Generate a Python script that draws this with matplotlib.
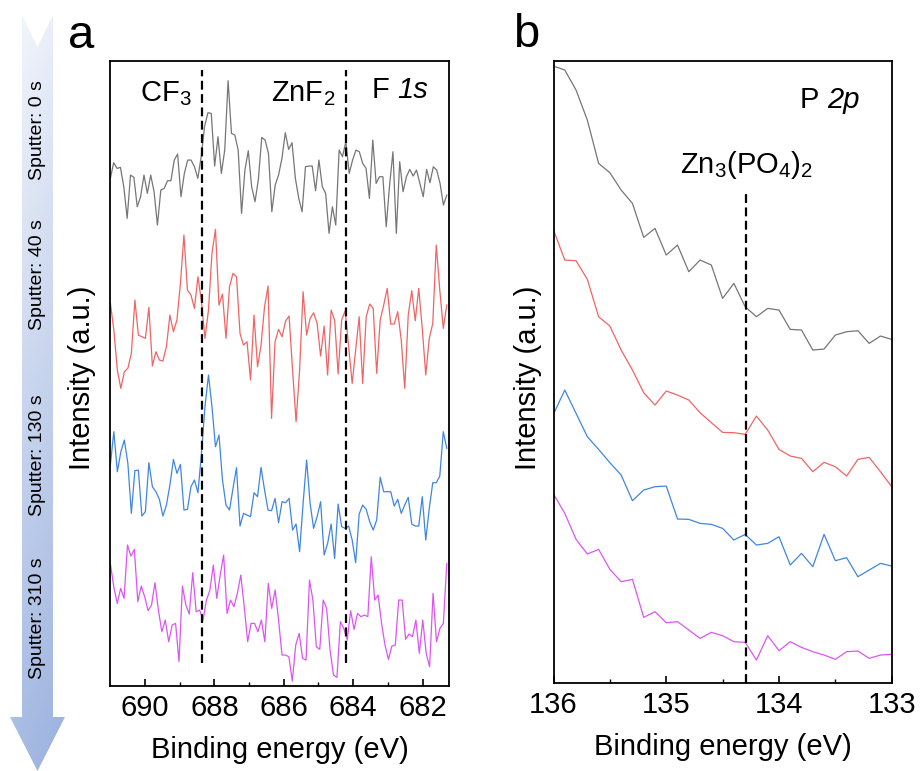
import numpy as np
import matplotlib
matplotlib.use("Agg")
import matplotlib.pyplot as plt
from matplotlib.patches import Polygon

plt.rcParams['font.family'] = ['Liberation Sans', 'DejaVu Sans']
plt.rcParams['mathtext.fontset'] = 'custom'
plt.rcParams['mathtext.rm'] = 'Liberation Sans'
plt.rcParams['mathtext.it'] = 'Liberation Sans:italic'

# ---- panel a: F 1s, intensities (a.u.), 691 -> 681.3 eV
f1s_0s = [245, 292, 275, 278, 220, 125, 255, 248, 160, 190, 255, 200, 255, 205, 105, 210, 215, 238, 238, 300,
          318, 190, 260, 300, 300, 280, 245, 310, 400, 442, 440, 282, 370, 260, 330, 538, 380, 375, 330, 140,
          270, 328, 220, 175, 242, 368, 360, 320, 145, 225, 255, 305, 382, 332, 352, 245, 185, 145, 280, 282,
          282, 208, 300, 220, 200, 80, 160, 105, 330, 310, 355, 260, 300, 330, 325, 290, 275, 185, 360, 230,
          250, 250, 100, 225, 325, 80, 295, 205, 250, 272, 252, 270, 230, 190, 272, 232, 280, 270, 230, 165, 195]
f1s_40s = [402, 320, 200, 145, 195, 205, 250, 410, 305, 300, 295, 388, 212, 255, 230, 227, 270, 365, 315, 350,
           460, 605, 440, 425, 385, 480, 405, 295, 380, 550, 622, 395, 428, 295, 450, 490, 480, 310, 275, 285,
           170, 365, 210, 275, 390, 452, 55, 285, 322, 300, 347, 362, 200, 45, 200, 435, 305, 355, 372, 340,
           242, 332, 185, 380, 350, 188, 350, 378, 270, 160, 260, 360, 160, 360, 398, 385, 190, 350, 395, 445,
           338, 338, 375, 290, 145, 365, 438, 348, 445, 325, 185, 295, 340, 575, 440, 325, 395]
f1s_130s = [315, 415, 295, 355, 390, 320, 170, 298, 300, 162, 175, 322, 250, 235, 212, 162, 195, 255, 332, 290,
            317, 180, 182, 250, 270, 232, 350, 490, 585, 490, 370, 405, 270, 195, 180, 245, 307, 132, 170, 165,
            160, 232, 220, 308, 240, 180, 178, 215, 142, 205, 202, 215, 120, 138, 55, 200, 330, 200, 125, 160,
            205, 45, 80, 138, 35, 198, 130, 125, 132, 90, 22, 168, 195, 182, 145, 120, 150, 278, 235, 235,
            235, 192, 212, 170, 195, 218, 138, 132, 132, 220, 90, 185, 262, 262, 282, 415, 365]
f1s_310s = [370, 300, 250, 295, 265, 425, 392, 412, 255, 302, 270, 228, 245, 312, 230, 165, 200, 135, 185, 190,
            75, 302, 245, 218, 342, 225, 230, 200, 260, 290, 365, 265, 335, 395, 220, 260, 240, 280, 335, 240,
            135, 190, 190, 165, 200, 135, 310, 235, 290, 200, 95, 95, 90, 17, 125, 160, 85, 80, 320, 260,
            120, 112, 260, 235, 110, 35, 28, 195, 175, 140, 228, 172, 220, 210, 215, 210, 390, 260, 275, 190,
            125, 82, 122, 125, 260, 260, 142, 158, 150, 200, 100, 200, 100, 60, 280, 135, 175, 190, 370]
f1s_offsets = [1320, 790, 390, 40]
f1s_peaks = [688.35, 684.2]

# ---- panel b: P 2p, 136 -> 133 eV in 0.1 eV steps
p2p_0s = [952, 940, 880, 790, 660, 632, 580, 540, 438, 465, 385, 415, 335, 370, 355, 255,
          300, 230, 200, 225, 220, 162, 160, 100, 103, 145, 155, 158, 120, 142, 132]
p2p_40s = [800, 710, 708, 652, 540, 512, 440, 380, 312, 275, 317, 305, 290, 252, 222, 193,
           192, 187, 242, 200, 142, 122, 115, 75, 103, 90, 62, 112, 118, 75, 30]
p2p_130s = [548, 620, 550, 480, 442, 402, 365, 288, 320, 330, 332, 233, 232, 220, 217, 205,
            170, 187, 155, 160, 180, 95, 130, 90, 187, 108, 117, 60, 80, 100, 92]
p2p_310s = [608, 550, 472, 428, 442, 382, 345, 352, 238, 255, 222, 225, 200, 175, 193, 183,
            165, 163, 110, 183, 138, 165, 148, 135, 125, 112, 135, 137, 115, 125, 127]
p2p_offsets = [950, 610, 310, 10]
p2p_peak = 134.29

colors = ['#767676', '#f06464', '#3f86e2', '#dc55f4']
sputter_labels = ['Sputter: 0 s', 'Sputter: 40 s', 'Sputter: 130 s', 'Sputter: 310 s']

fig = plt.figure(figsize=(9.21, 7.71), dpi=100)

# ---- gradient arrow on the left (pixel coords)
bg = fig.add_axes([0, 0, 1, 1])
bg.set_xlim(0, 921)
bg.set_ylim(771, 0)
bg.axis('off')
arrow = Polygon([(22, 15), (37.5, 47), (53, 15), (53, 717), (65, 717), (37.5, 771),
                 (10, 717), (22, 717)], closed=True, facecolor='none', edgecolor='none')
bg.add_patch(arrow)
ty = np.linspace(0, 1, 300)[:, None]
tx = np.linspace(0, 1, 60)[None, :]
top = np.array([0.96, 0.97, 0.99])
bot = np.array([0.60, 0.69, 0.87])
grad = top + (bot - top) * (0.85 * ty + 0.15 * tx)[..., None]
im = bg.imshow(grad, extent=(10, 65, 771, 15), aspect='auto', zorder=1)
im.set_clip_path(arrow)
for lab, yc in zip(sputter_labels, [130, 275, 455, 618]):
    bg.text(38, yc, lab, rotation=90, ha='center', va='center', fontsize=14)

fig.text(81 / 921, 1 - 48 / 771, 'a', fontsize=34, ha='center', va='baseline')
fig.text(526 / 921, 1 - 47 / 771, 'b', fontsize=34, ha='center', va='baseline')


def label_with_italic(ax, x, y, plain, ital):
    # plain part followed by an italic part on the same baseline
    t = ax.text(x, y, plain, fontsize=21, ha='left', va='baseline')
    ax.annotate(ital, xy=(1, 0), xycoords=t, fontsize=21, fontstyle='italic',
                ha='left', va='bottom')
    return t


# ---- panel a
ax1 = fig.add_axes([0.1198, 0.1102, 0.3672, 0.8106])
for vals, off, c in zip([f1s_0s, f1s_40s, f1s_130s, f1s_310s], f1s_offsets, colors):
    e = np.linspace(691, 681.3, len(vals))
    ax1.plot(e, np.array(vals) + off, color=c, lw=0.9)
ax1.vlines(f1s_peaks, 111, 1890, colors='k', linestyles=(0, (4, 2)), lw=1.6)
ax1.set_xlim(691, 681.25)
ax1.set_ylim(42, 1917)
ax1.set_xticks([690, 688, 686, 684, 682])
ax1.set_xticks([689, 687, 685, 683], minor=True)
ax1.text(689.40, 1797, 'CF$_3$', fontsize=21, ha='center', va='baseline')
ax1.text(685.45, 1797, 'ZnF$_2$', fontsize=21, ha='center', va='baseline')
label_with_italic(ax1, 683.46, 1806, 'F ', '1s')

# ---- panel b
ax2 = fig.add_axes([0.601, 0.1141, 0.3672, 0.8067])
for vals, off, c in zip([p2p_0s, p2p_40s, p2p_130s, p2p_310s], p2p_offsets, colors):
    e = np.linspace(136, 133, len(vals))
    ax2.plot(e, np.array(vals) + off, color=c, lw=0.9)
ax2.vlines(p2p_peak, 51, 1524, colors='k', linestyles=(0, (4, 2)), lw=1.6)
ax2.set_xlim(136, 133)
ax2.set_ylim(51, 1917)
ax2.set_xticks([136, 135, 134, 133])
ax2.set_xticks([135.5, 134.5, 133.5], minor=True)
label_with_italic(ax2, 133.81, 1776, 'P ', '2p')
ax2.text(p2p_peak, 1581, 'Zn$_3$(PO$_4$)$_2$', fontsize=21, ha='center', va='baseline')

for ax in (ax1, ax2):
    ax.set_yticks([])
    ax.tick_params(axis='x', which='major', direction='in', length=5, width=1.2,
                   labelsize=21, pad=6)
    ax.tick_params(axis='x', which='minor', direction='in', length=3, width=1.0)
    ax.set_xlabel('Binding energy (eV)', fontsize=21, labelpad=10)
    for s in ax.spines.values():
        s.set_linewidth(1.3)

fig.text(82 / 921, 1 - 378 / 771, 'Intensity (a.u.)', rotation=90, fontsize=21,
         ha='center', va='center')
fig.text(528 / 921, 1 - 378 / 771, 'Intensity (a.u.)', rotation=90, fontsize=21,
         ha='center', va='center')

fig.savefig('out.png', dpi=100)
